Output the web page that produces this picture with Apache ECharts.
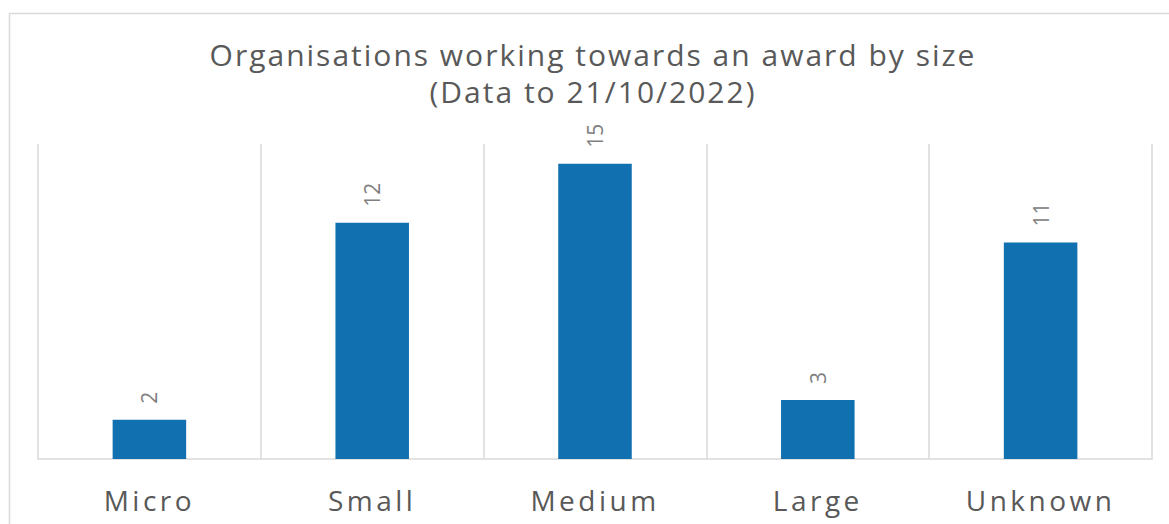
<!DOCTYPE html>
<html>
<head>
<meta charset="utf-8">
<script src="https://cdn.jsdelivr.net/npm/echarts@6/dist/echarts.min.js"></script>
<style>
html,body{margin:0;padding:0;background:#fff;}
#main{width:1169px;height:524px;}
#main svg text[style*="30px"]{letter-spacing:2px;}
#main svg text[style*="28px"]{letter-spacing:3.5px;}
</style>
</head>
<body>
<div id="main"></div>
<script>
const titleText = 'Organisations working towards an award by size\n(Data to 21/10/2022)';
const categories = ['Micro', 'Small', 'Medium', 'Large', 'Unknown'];
const values = [2, 12, 15, 3, 11];

const chart = echarts.init(document.getElementById('main'), null, {renderer: 'svg'});
chart.setOption({
  animation: false,
  title: {
    text: titleText,
    left: 588,
    textAlign: 'center',
    top: 31,
    textStyle: {
      fontFamily: 'Open Sans',
      fontSize: 30,
      fontWeight: 'normal',
      color: '#595959',
      lineHeight: 37
    }
  },
  graphic: [{
    type: 'rect',
    shape: {x: 9.5, y: 13.5, width: 1300, height: 700},
    style: {fill: 'none', stroke: '#d9d9d9', lineWidth: 1.5},
    silent: true
  }],
  grid: {left: 38, right: 17, top: 144, bottom: 65, containLabel: false},
  xAxis: {
    type: 'category',
    data: categories,
    boundaryGap: true,
    axisLine: {show: true, lineStyle: {color: '#d9d9d9', width: 1.5}},
    axisTick: {show: false},
    splitLine: {show: true, lineStyle: {color: '#d9d9d9', width: 1.5}},
    axisLabel: {
      fontFamily: 'Open Sans',
      fontSize: 28,
      color: '#595959',
      margin: 27
    }
  },
  yAxis: {
    type: 'value',
    min: 0,
    max: 16,
    show: false,
    splitLine: {show: false}
  },
  series: [{
    type: 'bar',
    data: values,
    barWidth: '33%',
    itemStyle: {color: '#1070b0'},
    label: {
      show: true,
      position: 'top',
      rotate: 90,
      align: 'left',
      verticalAlign: 'middle',
      distance: 16,
      fontFamily: 'Open Sans',
      fontSize: 21,
      color: '#808080'
    }
  }]
});
</script>
</body>
</html>
